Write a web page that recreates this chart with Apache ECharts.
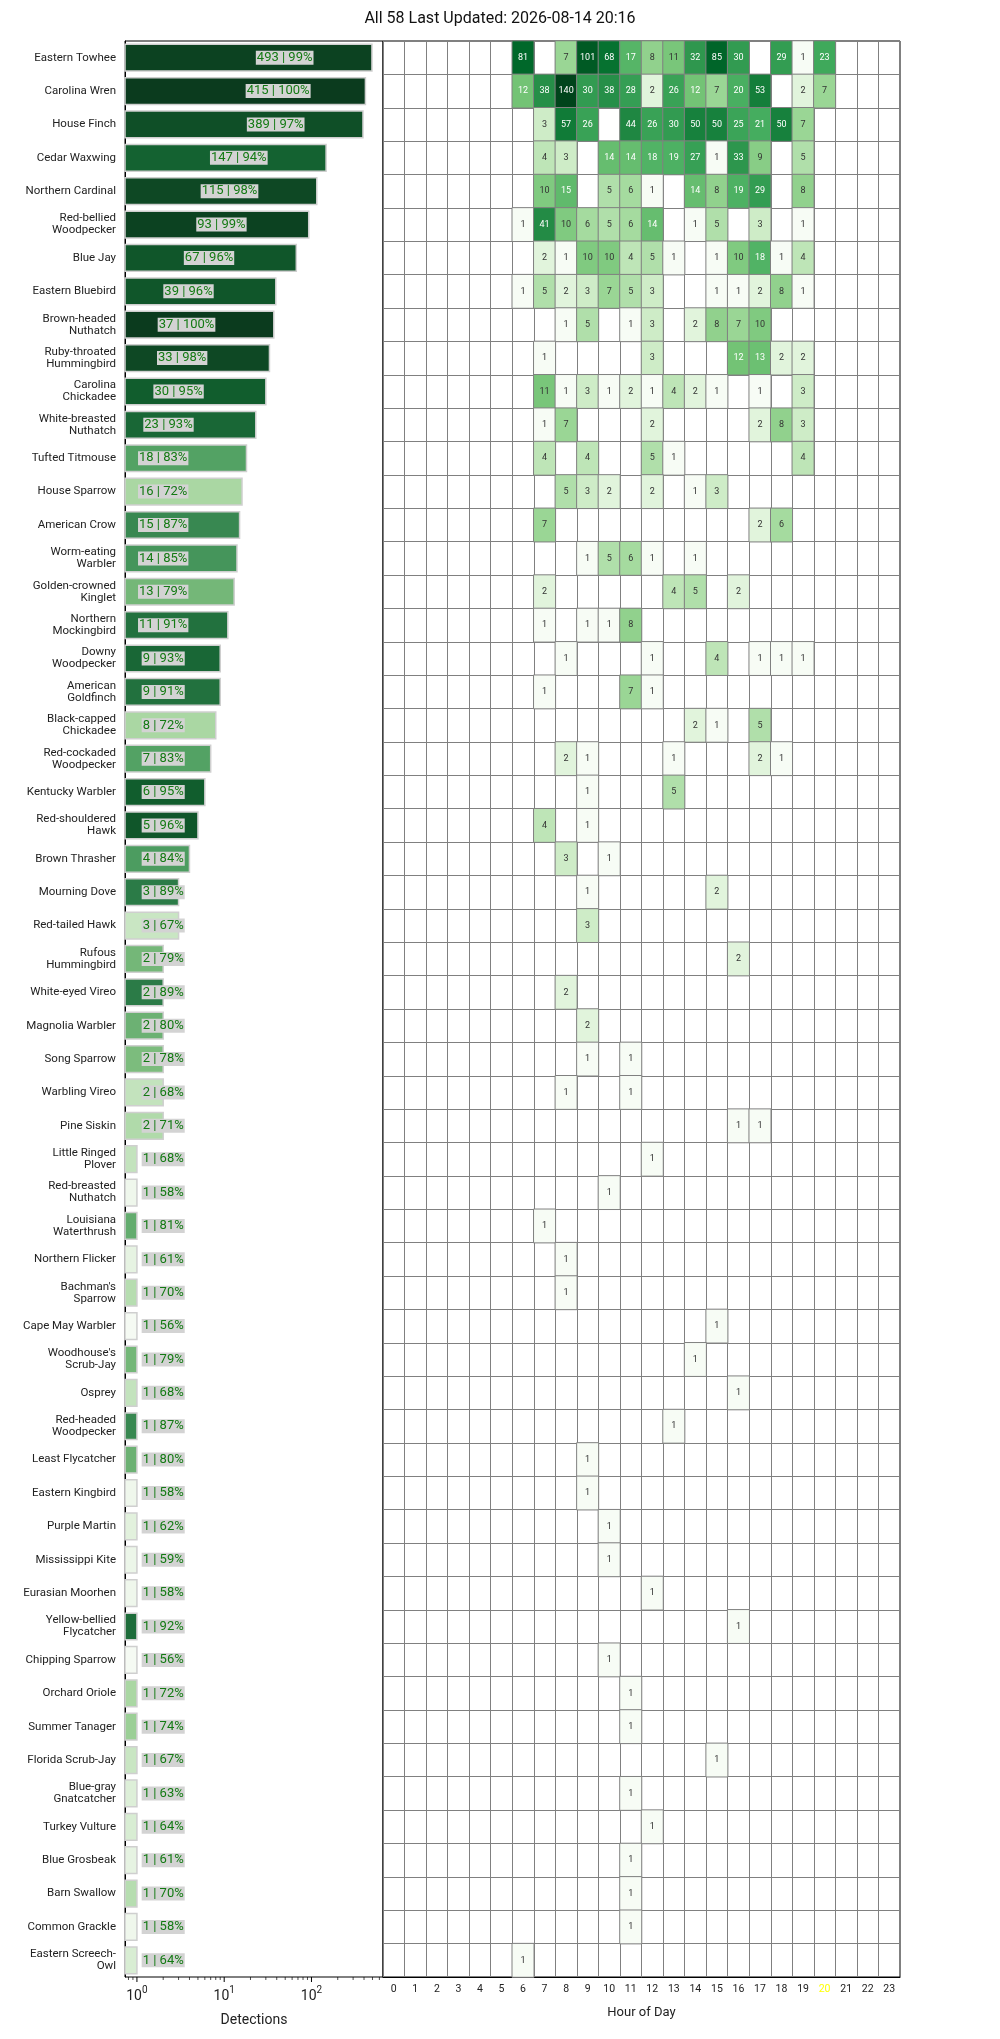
<!DOCTYPE html>
<html><head><meta charset="utf-8">
<script src="https://cdn.jsdelivr.net/npm/echarts@6/dist/echarts.min.js"></script>
<style>html,body{margin:0;padding:0;background:#fff}#c{width:1000px;height:2039px}</style>
</head><body><div id="c"></div>
<script>
const titleText = 'All 58 Last Updated: 2026-08-14 20:16';
const species = [
 'Eastern Towhee','Carolina Wren','House Finch','Cedar Waxwing','Northern Cardinal',
 'Red-bellied\nWoodpecker','Blue Jay','Eastern Bluebird','Brown-headed\nNuthatch','Ruby-throated\nHummingbird',
 'Carolina\nChickadee','White-breasted\nNuthatch','Tufted Titmouse','House Sparrow','American Crow',
 'Worm-eating\nWarbler','Golden-crowned\nKinglet','Northern\nMockingbird','Downy\nWoodpecker','American\nGoldfinch',
 'Black-capped\nChickadee','Red-cockaded\nWoodpecker','Kentucky Warbler','Red-shouldered\nHawk','Brown Thrasher',
 'Mourning Dove','Red-tailed Hawk','Rufous\nHummingbird','White-eyed Vireo','Magnolia Warbler',
 'Song Sparrow','Warbling Vireo','Pine Siskin','Little Ringed\nPlover','Red-breasted\nNuthatch',
 'Louisiana\nWaterthrush','Northern Flicker',"Bachman's\nSparrow",'Cape May Warbler',"Woodhouse's\nScrub-Jay",
 'Osprey','Red-headed\nWoodpecker','Least Flycatcher','Eastern Kingbird','Purple Martin',
 'Mississippi Kite','Eurasian Moorhen','Yellow-bellied\nFlycatcher','Chipping Sparrow','Orchard Oriole',
 'Summer Tanager','Florida Scrub-Jay','Blue-gray\nGnatcatcher','Turkey Vulture','Blue Grosbeak',
 'Barn Swallow','Common Grackle','Eastern Screech-\nOwl'
];
const detections = [493,415,389,147,115,93,67,39,37,33,30,23,18,16,15,14,13,11,9,9,8,7,6,5,4,3,3,2,2,2,2,2,2,1,1,1,1,1,1,1,1,1,1,1,1,1,1,1,1,1,1,1,1,1,1,1,1,1];
const confidence = [99,100,97,94,98,99,96,96,100,98,95,93,83,72,87,85,79,91,93,91,72,83,95,96,84,89,67,79,89,80,78,68,71,68,58,81,61,70,56,79,68,87,80,58,62,59,58,92,56,72,74,67,63,64,61,70,58,64];
const hours = ['0','1','2','3','4','5','6','7','8','9','10','11','12','13','14','15','16','17','18','19','20','21','22','23'];
const currentHour = '20';
// per species: [hour, count] pairs
const hourly = [
 [[6,81],[8,7],[9,101],[10,68],[11,17],[12,8],[13,11],[14,32],[15,85],[16,30],[18,29],[19,1],[20,23]],
 [[6,12],[7,38],[8,140],[9,30],[10,38],[11,28],[12,2],[13,26],[14,12],[15,7],[16,20],[17,53],[19,2],[20,7]],
 [[7,3],[8,57],[9,26],[11,44],[12,26],[13,30],[14,50],[15,50],[16,25],[17,21],[18,50],[19,7]],
 [[7,4],[8,3],[10,14],[11,14],[12,18],[13,19],[14,27],[15,1],[16,33],[17,9],[19,5]],
 [[7,10],[8,15],[10,5],[11,6],[12,1],[14,14],[15,8],[16,19],[17,29],[19,8]],
 [[6,1],[7,41],[8,10],[9,6],[10,5],[11,6],[12,14],[14,1],[15,5],[17,3],[19,1]],
 [[7,2],[8,1],[9,10],[10,10],[11,4],[12,5],[13,1],[15,1],[16,10],[17,18],[18,1],[19,4]],
 [[6,1],[7,5],[8,2],[9,3],[10,7],[11,5],[12,3],[15,1],[16,1],[17,2],[18,8],[19,1]],
 [[8,1],[9,5],[11,1],[12,3],[14,2],[15,8],[16,7],[17,10]],
 [[7,1],[12,3],[16,12],[17,13],[18,2],[19,2]],
 [[7,11],[8,1],[9,3],[10,1],[11,2],[12,1],[13,4],[14,2],[15,1],[17,1],[19,3]],
 [[7,1],[8,7],[12,2],[17,2],[18,8],[19,3]],
 [[7,4],[9,4],[12,5],[13,1],[19,4]],
 [[8,5],[9,3],[10,2],[12,2],[14,1],[15,3]],
 [[7,7],[17,2],[18,6]],
 [[9,1],[10,5],[11,6],[12,1],[14,1]],
 [[7,2],[13,4],[14,5],[16,2]],
 [[7,1],[9,1],[10,1],[11,8]],
 [[8,1],[12,1],[15,4],[17,1],[18,1],[19,1]],
 [[7,1],[11,7],[12,1]],
 [[14,2],[15,1],[17,5]],
 [[8,2],[9,1],[13,1],[17,2],[18,1]],
 [[9,1],[13,5]],
 [[7,4],[9,1]],
 [[8,3],[10,1]],
 [[9,1],[15,2]],
 [[9,3]],
 [[16,2]],
 [[8,2]],
 [[9,2]],
 [[9,1],[11,1]],
 [[8,1],[11,1]],
 [[16,1],[17,1]],
 [[12,1]],
 [[10,1]],
 [[7,1]],
 [[8,1]],
 [[8,1]],
 [[15,1]],
 [[14,1]],
 [[16,1]],
 [[13,1]],
 [[9,1]],
 [[9,1]],
 [[10,1]],
 [[10,1]],
 [[12,1]],
 [[16,1]],
 [[10,1]],
 [[11,1]],
 [[11,1]],
 [[15,1]],
 [[11,1]],
 [[12,1]],
 [[11,1]],
 [[11,1]],
 [[11,1]],
 [[6,1]]
];

const xMin = 0.73, xMax = 660;
const G = {left:125, top:41, height:1936, barW:258, heatL:383, heatW:517};
const greens = ['#f7fcf5','#e5f5e0','#c7e9c0','#a1d99b','#74c476','#41ab5d','#238b45','#006d2c','#00441b'];
const barGreens = ['#f5faf3','#e4f2e0','#c9e6c3','#a7d6a0','#7cbc7d','#4f9f62','#2b7b47','#12602f','#0b3b1e'];

const barData = detections.map((c, i) => [c, i, confidence[i]]);
let maxCount = 1;
hourly.forEach(r => r.forEach(p => { if (p[1] > maxCount) maxCount = p[1]; }));
const heatData = [];
hourly.forEach((r, i) => r.forEach(([h, c]) => heatData.push({
  value: [h, i, c, Math.log10(c)],
  label: {color: c >= 12 ? '#ffffff' : '#333333'}
})));

const chart = echarts.init(document.getElementById('c'));
chart.setOption({
  animation: false,
  textStyle: {fontFamily: 'Roboto'},
  title: {text: titleText, left: 'center', top: 6, textStyle: {fontSize: 16, fontWeight: 'normal', color: '#111', fontFamily: 'Roboto'}},
  grid: [
    {left: G.left, top: G.top, width: G.barW, height: G.height, show: true, borderColor: '#000', borderWidth: 1},
    {left: G.heatL, top: G.top, width: G.heatW, height: G.height, show: true, borderColor: '#000', borderWidth: 1}
  ],
  xAxis: [
    {type: 'log', logBase: 10, gridIndex: 0, min: xMin, max: xMax,
     axisLine: {lineStyle: {color: '#000'}}, axisTick: {show: false}, splitLine: {show: false},
     axisLabel: {margin: 8,
       formatter: v => { const l = Math.log10(v); const r = Math.round(l); return Math.abs(l - r) < 1e-6 && r >= 0 ? '{b|10}{s|' + r + '}' : ''; },
       rich: {b: {fontSize: 14, color: '#222', lineHeight: 18, verticalAlign: 'bottom'},
              s: {fontSize: 10, color: '#222', lineHeight: 12, verticalAlign: 'top'}}},
     name: 'Detections', nameLocation: 'middle', nameGap: 36, nameTextStyle: {fontSize: 14, color: '#222'}},
    {type: 'category', gridIndex: 1, data: hours,
     axisLine: {lineStyle: {color: '#000'}},
     axisTick: {alignWithLabel: true, length: 4, lineStyle: {color: '#000'}},
     axisLabel: {interval: 0, fontSize: 10.5, margin: 7, color: v => v === currentHour ? '#ffff00' : '#222'},
     splitLine: {show: true, interval: 0, lineStyle: {color: '#808080', width: 1}},
     name: 'Hour of Day', nameLocation: 'middle', nameGap: 29, nameTextStyle: {fontSize: 13, color: '#222'}}
  ],
  yAxis: [
    {type: 'category', gridIndex: 0, data: species, inverse: true,
     axisLine: {lineStyle: {color: '#000'}},
     axisTick: {alignWithLabel: true, length: 4, lineStyle: {color: '#000'}},
     axisLabel: {interval: 0, fontSize: 11.5, lineHeight: 12, color: '#222', margin: 9}},
    {type: 'category', gridIndex: 1, data: species, inverse: true,
     axisLine: {show: false}, axisTick: {show: false}, axisLabel: {show: false},
     splitLine: {show: true, interval: 0, lineStyle: {color: '#808080', width: 1}}}
  ],
  visualMap: [
    {type: 'continuous', show: false, seriesIndex: 0, dimension: 2,
     min: Math.min(...confidence), max: Math.max(...confidence), inRange: {color: barGreens}},
    {type: 'continuous', show: false, seriesIndex: 1, dimension: 3,
     min: 0, max: Math.log10(maxCount), inRange: {color: greens}}
  ],
  series: [
    {type: 'custom', xAxisIndex: 0, yAxisIndex: 0, data: barData, encode: {x: 0, y: 1},
     renderItem: (params, api) => {
       const cnt = api.value(0), idx = api.value(1), pct = api.value(2);
       const s = api.coord([xMin, idx]);
       const e = api.coord([cnt, idx]);
       const band = api.size([1, 1], [1, idx])[1];
       const h = band * 0.8;
       const lp = api.coord([Math.max(cnt / 10, 2), idx]);
       return {type: 'group', children: [
         {type: 'rect', shape: {x: s[0], y: s[1] - h / 2, width: e[0] - s[0], height: h},
          style: {fill: api.visual('color'), stroke: '#cfcfcf', lineWidth: 1.5}},
         {type: 'text', x: lp[0], y: lp[1],
          style: {text: cnt + ' | ' + pct + '%', fill: '#137a13', font: '13px Roboto',
                  align: 'center', verticalAlign: 'middle', backgroundColor: '#d3d3d3', padding: [1, 1, 0, 1]}}
       ]};
     }},
    {type: 'heatmap', xAxisIndex: 1, yAxisIndex: 1, data: heatData,
     itemStyle: {borderColor: '#808080', borderWidth: 1},
     label: {show: true, fontSize: 9, formatter: p => p.value[2]},
     emphasis: {disabled: true}}
  ]
});

// log-axis major/minor ticks
const ticks = [];
for (let e = -1; e <= 2; e++) for (let m = 1; m <= 9; m++) {
  const v = m * Math.pow(10, e);
  if (v >= xMin && v <= xMax) ticks.push([v, m === 1]);
}
const yb = G.top + G.height;
chart.setOption({graphic: ticks.map(([v, major]) => {
  const px = chart.convertToPixel({xAxisIndex: 0}, v);
  return {type: 'line', silent: true, shape: {x1: px, y1: yb, x2: px, y2: yb + (major ? 5 : 3)},
          style: {stroke: '#000', lineWidth: major ? 1 : 0.7}};
})});
</script></body></html>
